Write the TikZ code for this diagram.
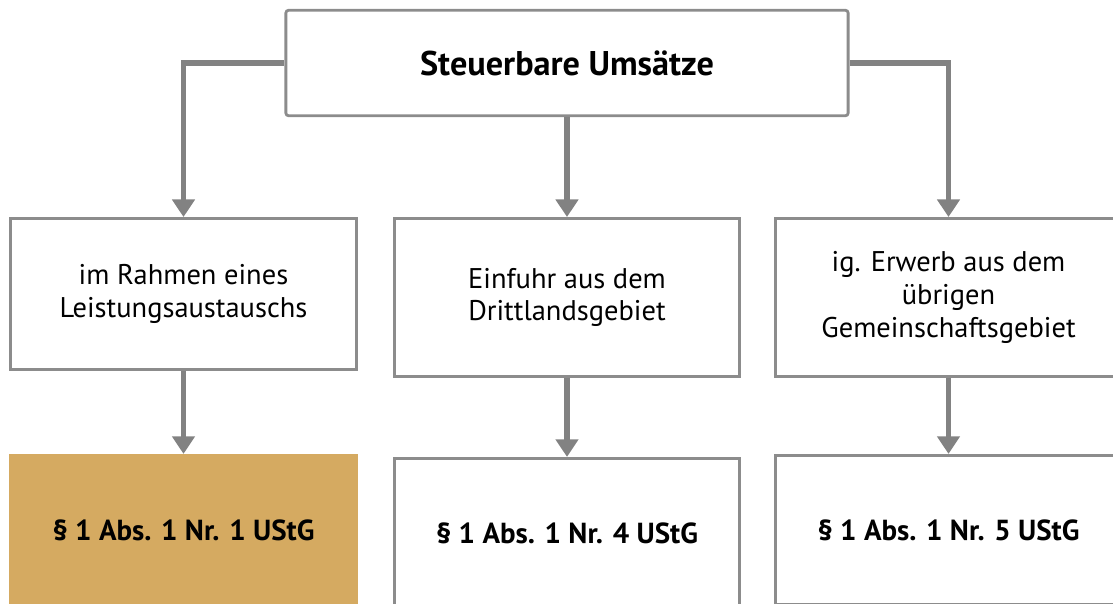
\documentclass[tikz,border=0pt]{standalone}
\usepackage{fontspec}
\setmainfont{PT Sans}
\usetikzlibrary{arrows.meta}
\definecolor{box-gray}{RGB}{140,140,140}
\definecolor{line-gray}{RGB}{130,130,130}
\definecolor{sand-gold}{RGB}{213,170,97}

\begin{document}
\begin{tikzpicture}[x=0.02cm,y=-0.02cm,
	box/.style={draw=box-gray, line width=1.6pt, align=center, inner sep=0pt,
		minimum width=196.7pt, font=\fontsize{16.2}{18.7}\selectfont},
	lawbox/.style={box, minimum height=85pt, font=\fontsize{16.5}{19}\selectfont\bfseries},
	link/.style={draw=line-gray, line width=3.4pt,
		-{Triangle[width=12.5pt,length=10pt]}}]
			\clip (0,0) rectangle (1113,603);

			\node[box, rounded corners=1.5pt, minimum width=320pt, minimum height=60pt,
				font=\fontsize{19.5}{22}\selectfont\bfseries] (umsatz) at (567,63) {Steuerbare Umsätze};

			\node[box, minimum height=86pt] (leistung) at (183.5,294) {im Rahmen eines\\Leistungsaustauschs};
			\node[box, minimum height=90pt] (einfuhr) at (567,297.5) {Einfuhr aus dem\\Drittlandsgebiet};
			\node[box, minimum height=90pt] (erwerb) at (948.5,297.5) {ig. Erwerb aus dem\\übrigen\\Gemeinschaftsgebiet};

			\node[lawbox, fill=sand-gold, draw=sand-gold] (nr1) at (183.5,530) {§ 1 Abs. 1 Nr. 1 UStG};
			\node[lawbox] (nr4) at (567,533) {§ 1 Abs. 1 Nr. 4 UStG};
			\node[lawbox] (nr5) at (948.5,530) {§ 1 Abs. 1 Nr. 5 UStG};

			\draw[link] (umsatz.west) -| (leistung.north);
			\draw[link] (umsatz.east) -| (erwerb.north);
			\draw[link] (umsatz.south) -- (einfuhr.north);

			\draw[link] (leistung.south) -- (nr1.north);
			\draw[link] (einfuhr.south) -- (nr4.north);
			\draw[link] (erwerb.south) -- (nr5.north);
		\end{tikzpicture}
\end{document}
